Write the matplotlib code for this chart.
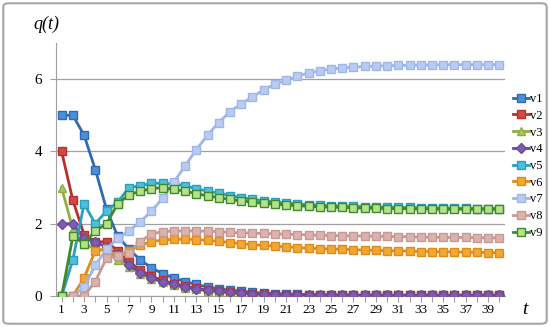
import matplotlib
matplotlib.use("Agg")
import matplotlib.pyplot as plt
from matplotlib.patches import FancyBboxPatch
from matplotlib.lines import Line2D

t = list(range(1, 41))
xticklabels = [str(i) for i in range(1, 40, 2)]
yticks = [0, 2, 4, 6]
names = ["v1", "v2", "v3", "v4", "v5", "v6", "v7", "v8", "v9"]

v1 = [5.0, 5.0, 4.45, 3.5, 2.4, 1.65, 1.3, 1.0, 0.78, 0.62, 0.5, 0.4, 0.32, 0.25, 0.2, 0.16, 0.13, 0.1, 0.08, 0.065,
      0.055, 0.045, 0.04, 0.035, 0.03, 0.03, 0.025, 0.025, 0.02, 0.02, 0.02, 0.02, 0.02, 0.02, 0.02, 0.02, 0.02, 0.02, 0.02, 0.02]
v2 = [4.0, 2.65, 1.7, 1.5, 1.5, 1.25, 0.95, 0.72, 0.55, 0.43, 0.34, 0.27, 0.21, 0.17, 0.13, 0.1, 0.08, 0.065, 0.05, 0.04,
      0.035, 0.03, 0.025, 0.02, 0.02, 0.02, 0.02, 0.02, 0.02, 0.02, 0.02, 0.02, 0.02, 0.02, 0.02, 0.02, 0.02, 0.02, 0.02, 0.02]
v3 = [3.0, 1.85, 1.45, 1.3, 1.25, 1.0, 0.8, 0.62, 0.48, 0.38, 0.3, 0.23, 0.18, 0.14, 0.11, 0.09, 0.07, 0.055, 0.045, 0.035,
      0.03, 0.025, 0.02, 0.02, 0.02, 0.02, 0.02, 0.02, 0.02, 0.02, 0.02, 0.02, 0.02, 0.02, 0.02, 0.02, 0.02, 0.02, 0.02, 0.02]
v4 = [2.0, 2.0, 1.6, 1.5, 1.35, 1.15, 0.85, 0.65, 0.5, 0.4, 0.32, 0.25, 0.2, 0.16, 0.13, 0.1, 0.08, 0.065, 0.05, 0.04,
      0.035, 0.03, 0.03, 0.025, 0.025, 0.02, 0.02, 0.02, 0.02, 0.02, 0.02, 0.02, 0.02, 0.02, 0.02, 0.02, 0.02, 0.02, 0.02, 0.02]
v5 = [0.0, 1.0, 2.55, 2.0, 2.35, 2.6, 3.0, 3.05, 3.12, 3.12, 3.1, 3.05, 2.97, 2.9, 2.85, 2.78, 2.72, 2.68, 2.63, 2.6,
      2.57, 2.55, 2.53, 2.51, 2.5, 2.49, 2.48, 2.47, 2.46, 2.46, 2.45, 2.45, 2.44, 2.44, 2.43, 2.43, 2.43, 2.42, 2.42, 2.42]
v6 = [0.0, 0.0, 0.5, 1.25, 1.3, 1.1, 1.25, 1.4, 1.5, 1.55, 1.57, 1.57, 1.56, 1.54, 1.51, 1.48, 1.45, 1.42, 1.4, 1.38,
      1.36, 1.34, 1.32, 1.31, 1.3, 1.29, 1.28, 1.27, 1.26, 1.25, 1.25, 1.24, 1.23, 1.23, 1.22, 1.22, 1.21, 1.21, 1.2, 1.2]
v7 = [0.0, 0.0, 0.25, 0.85, 1.3, 1.6, 1.8, 2.05, 2.35, 2.7, 3.15, 3.6, 4.05, 4.45, 4.8, 5.1, 5.32, 5.5, 5.71, 5.86,
      5.97, 6.08, 6.17, 6.23, 6.28, 6.31, 6.33, 6.35, 6.36, 6.37, 6.38, 6.38, 6.39, 6.39, 6.4, 6.4, 6.4, 6.4, 6.4, 6.4]
v8 = [0.0, 0.0, 0.0, 0.4, 1.05, 1.1, 1.2, 1.5, 1.72, 1.78, 1.8, 1.8, 1.8, 1.79, 1.78, 1.76, 1.75, 1.74, 1.73, 1.72,
      1.71, 1.7, 1.69, 1.68, 1.67, 1.67, 1.66, 1.66, 1.65, 1.65, 1.64, 1.64, 1.63, 1.63, 1.62, 1.62, 1.62, 1.61, 1.61, 1.61]
v9 = [0.0, 1.65, 1.45, 1.8, 2.0, 2.55, 2.8, 2.9, 2.97, 3.0, 2.95, 2.9, 2.83, 2.77, 2.72, 2.67, 2.63, 2.6, 2.56, 2.54,
      2.52, 2.5, 2.48, 2.47, 2.46, 2.45, 2.44, 2.43, 2.43, 2.42, 2.42, 2.41, 2.41, 2.41, 2.4, 2.4, 2.4, 2.4, 2.4, 2.4]

series = [v1, v2, v3, v4, v5, v6, v7, v8, v9]
line_colors = ["#2F6BB3", "#B8302C", "#8FB040", "#6A4A9C", "#2A9FBF", "#E08A1E", "#9FB6E6", "#C49A94", "#3E8A2A"]
face_colors = ["#4F8ED6", "#D04A44", "#A8C860", "#7E5CB0", "#4FC0DA", "#F0A830", "#B8CCF2", "#DDB2AC", "#B8E08A"]
markers = ["s", "s", "^", "D", "s", "s", "s", "s", "s"]
msizes = [5.5, 5.5, 6, 5, 5.5, 5.5, 5.5, 5.5, 5.5]

serif = ["Liberation Serif", "DejaVu Serif"]

fig = plt.figure(figsize=(5.5, 3.27), dpi=100)
ax = fig.add_axes([56 / 550, 31 / 327, 449 / 550, 253 / 327])

for s, lc, fc, m, ms in zip(series, line_colors, face_colors, markers, msizes):
    ax.plot(t, s, color=lc, lw=2.0, marker=m, ms=ms, mfc=fc, mec=lc, mew=1.0, zorder=3)

ax.set_xlim(0.5, 40.5)
ax.set_ylim(0, 7)
ax.set_yticks(yticks)
ax.set_yticklabels([str(v) for v in yticks], fontfamily=serif, fontsize=11)
ax.set_xticks(t, minor=False)
ax.set_xticklabels([str(i) if i % 2 == 1 else "" for i in t], fontfamily=serif, fontsize=9.5)
ax.grid(axis="y", color="#A0A0A0", lw=0.9, zorder=0)
ax.tick_params(axis="x", length=4, color="#A0A0A0", pad=2)
ax.tick_params(axis="y", length=4, color="#A0A0A0", pad=6)
for side in ["top", "right"]:
    ax.spines[side].set_visible(False)
ax.spines["left"].set_color("#A0A0A0")
ax.spines["bottom"].set_color("#A0A0A0")

fig.text(46 / 550, 1 - 24 / 327, "q(t)", fontfamily=serif, fontstyle="italic", fontsize=13,
         ha="center", va="center")
fig.text(525 / 550, 1 - 310 / 327, "t", fontfamily=serif, fontstyle="italic", fontsize=14,
         ha="center", va="center")

handles = [Line2D([0], [0], color=lc, lw=2.0, marker=m, ms=ms, mfc=fc, mec=lc)
           for lc, fc, m, ms in zip(line_colors, face_colors, markers, msizes)]
leg = fig.legend(handles, names, loc="upper left", bbox_to_anchor=(508 / 550, 1 - 88 / 327),
                 frameon=False, prop={"family": serif, "size": 9}, handlelength=1.3,
                 handletextpad=0.1, labelspacing=0.38, borderaxespad=0)

border = FancyBboxPatch((0.006, 0.01), 0.988, 0.98, boxstyle="round,pad=0,rounding_size=0.01",
                        transform=fig.transFigure, fill=False, ec="#A6A6A6", lw=1.5)
fig.patches.append(border)

fig.savefig("out.png", dpi=100)
